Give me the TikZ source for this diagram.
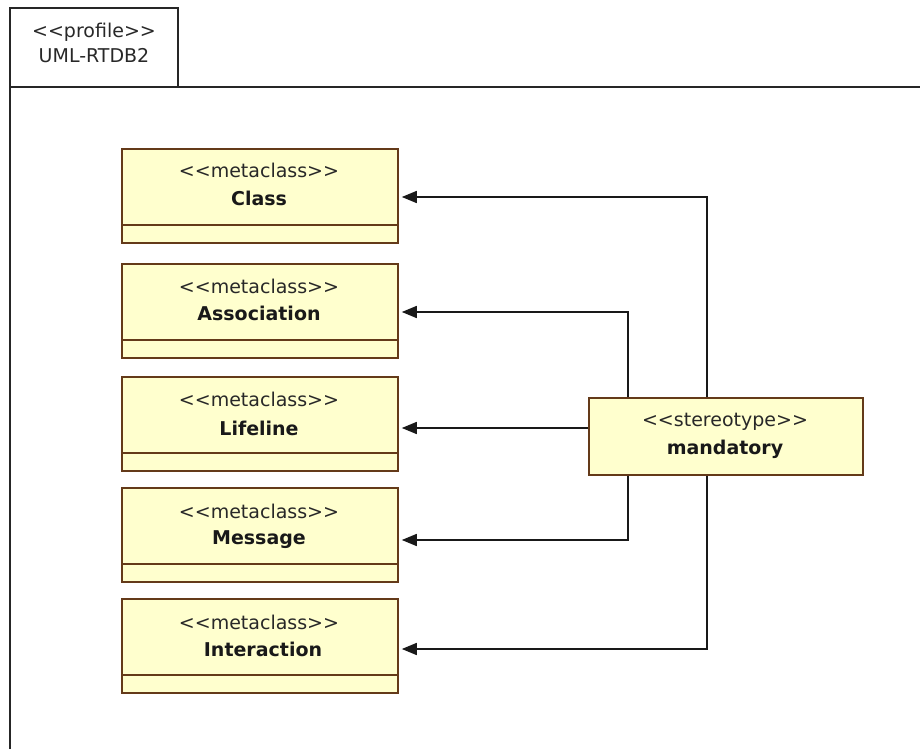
\documentclass[tikz,border=0pt]{standalone}
\usepackage{fontspec}
\setmainfont{DejaVu Sans}[Ligatures=TeXOff]
\usetikzlibrary{arrows.meta}
\definecolor{boxfill}{RGB}{255,255,206}
\definecolor{boxline}{RGB}{100,58,25}
\definecolor{txt}{RGB}{40,40,40}
\begin{document}
\begin{tikzpicture}[x=1pt,y=-1pt,
  metabox/.style={draw=boxline, line width=1.8pt, fill=boxfill, minimum width=276pt, minimum height=94pt, anchor=north west, inner sep=0pt},
  stbox/.style={draw=boxline, line width=1.8pt, fill=boxfill, minimum width=274pt, minimum height=77pt, anchor=north west, inner sep=0pt},
  divider/.style={draw=boxline, line width=1.8pt},
  sttext/.style={font=\fontsize{19}{22}\selectfont, text=txt, inner sep=0pt},
  nametext/.style={font=\fontsize{19}{22}\selectfont\bfseries, text=black!90, inner sep=0pt},
  frame/.style={draw=black!85, line width=1.6pt},
  conn/.style={draw=black!90, line width=1.6pt, -{Triangle[length=15pt,width=12pt]}, shorten >=3pt},
]
\useasboundingbox (0,0) rectangle (920,749);
% package frame
\draw[frame] (10,8) rectangle (178,87);
\draw[frame] (10,749) -- (10,87) -- (920,87);
\node[sttext] (pst) at (94,32) {<<profile>>};
\node[sttext] (pname) at (94,56) {UML-RTDB2};

% metaclass boxes
\node[metabox] (cls) at (121,148) {};
\node[metabox] (asc) at (121,263) {};
\node[metabox] (lif) at (121,376) {};
\node[metabox] (msg) at (121,487) {};
\node[metabox] (int) at (121,598) {};
\foreach \b in {cls,asc,lif,msg,int}{
  \draw[divider] ([yshift=19pt]\b.south west) -- ([yshift=19pt]\b.south east);
}
\node[sttext] (clsS) at (259,170) {<<metaclass>>};
\node[nametext] (clsN) at (259,198) {Class};
\node[sttext] (ascS) at (259,286) {<<metaclass>>};
\node[nametext] (ascN) at (259,313) {Association};
\node[sttext] (lifS) at (259,399) {<<metaclass>>};
\node[nametext] (lifN) at (259,428) {Lifeline};
\node[sttext] (msgS) at (259,511) {<<metaclass>>};
\node[nametext] (msgN) at (259,540) {Message};
\node[sttext] (intS) at (259,622) {<<metaclass>>};
\node[nametext] (intN) at (263,649) {Interaction};

% stereotype
\node[stbox] (st) at (588,397) {};
\node[sttext] (stS) at (725,422) {<<stereotype>>};
\node[nametext] (stN) at (725,449) {mandatory};

% connectors
\coordinate (a1) at (707,197);
\coordinate (a2) at (628,312);
\coordinate (a4) at (628,540);
\coordinate (a5) at (707,649);
\draw[conn] (st.north -| a1) -- (a1) -- (cls.east |- a1);
\draw[conn] (st.north -| a2) -- (a2) -- (asc.east |- a2);
\draw[conn] (st.west |- lifN) -- (lif.east |- lifN);
\draw[conn] (st.south -| a4) -- (a4) -- (msg.east |- a4);
\draw[conn] (st.south -| a5) -- (a5) -- (int.east |- a5);
\end{tikzpicture}
\end{document}
